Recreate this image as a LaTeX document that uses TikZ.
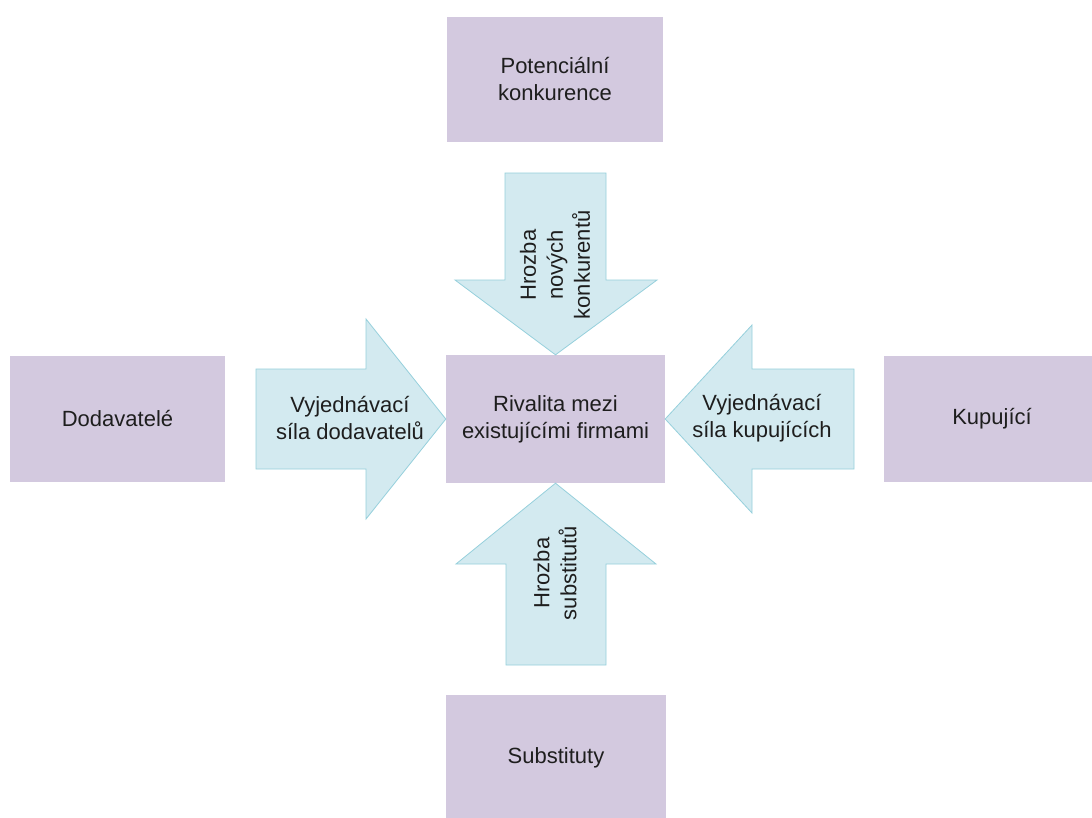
\documentclass[tikz,border=0pt]{standalone}
\usepackage{fontspec}
\setmainfont{Liberation Sans}
\definecolor{boxfill}{HTML}{D3C9DF}
\definecolor{arrowfill}{HTML}{D3EAF0}
\definecolor{arrowline}{HTML}{96D0DC}
\definecolor{txt}{HTML}{1E1E1E}
\begin{document}
\begin{tikzpicture}[x=1pt,y=-1pt,
  force/.style={fill=boxfill,draw=none,inner sep=0pt,text=txt,align=center,
    font=\fontsize{22}{27}\selectfont},
  push/.style={fill=arrowfill,draw=arrowline,line width=0.8pt,line join=miter},
  pushlabel/.style={text=txt,align=center,inner sep=0pt,
    font=\fontsize{22}{27}\selectfont}]
\useasboundingbox[fill=white] (0,0) rectangle (1092,817);

% the five forces
\node[force,minimum width=219pt,minimum height=128pt] (rival) at (555.5,419) {Rivalita mezi\\existujícími firmami};
\node[force,minimum width=216pt,minimum height=125pt] (entrants) at (555,79.5) {Potenciální\\konkurence};
\node[force,minimum width=215pt,minimum height=126pt] (suppliers) at (117.5,419) {Dodavatelé};
\node[force,minimum width=216pt,minimum height=126pt] (buyers) at (992,419) {Kupující};
\node[force,minimum width=220pt,minimum height=126pt] (substitutes) at (556,758) {Substituty};

% block arrows pointing at the rivalry box
\draw[push] (505,173) -- (606,173) -- (606,280) -- (657,280) -- (rival.north)
  -- (455,280) -- (505,280) -- cycle;
\draw[push] (256,369) -- (366,369) -- (366,319) -- (rival.west)
  -- (366,519) -- (366,469) -- (256,469) -- cycle;
\draw[push] (854,369) -- (752,369) -- (752,325) -- (rival.east)
  -- (752,513) -- (752,469) -- (854,469) -- cycle;
\draw[push] (506,665) -- (606,665) -- (606,564) -- (656,564) -- (rival.south)
  -- (456,564) -- (506,564) -- cycle;

% arrow labels
\node[pushlabel,rotate=90] (threatnew) at (555,265) {Hrozba\\nových\\konkurentů};
\node[pushlabel] (supplierpower) at (350,418) {Vyjednávací\\síla dodavatelů};
\node[pushlabel] (buyerpower) at (762,418) {Vyjednávací\\síla kupujících};
\node[pushlabel,rotate=90] (threatsub) at (555,573) {Hrozba\\substitutů};
\end{tikzpicture}
\end{document}
